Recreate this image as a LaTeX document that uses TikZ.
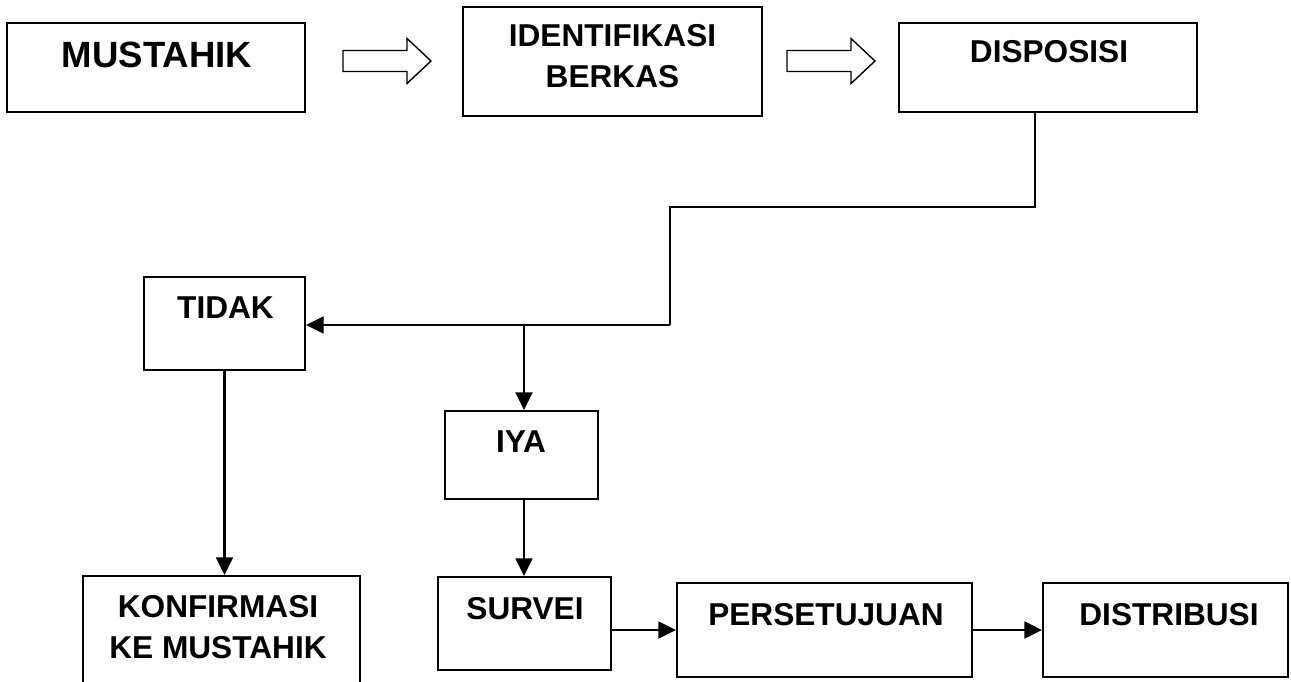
\documentclass[tikz,border=0pt]{standalone}
\usepackage{fontspec}
\setmainfont{Liberation Sans}
\usetikzlibrary{arrows.meta}

\begin{document}
\begin{tikzpicture}[x=0.02cm,y=-0.02cm]

\tikzset{box/.style = {draw, line width=1.1pt, inner sep=0pt}}
\tikzset{size/.style 2 args = {minimum width=#1*0.02cm, minimum height=#2*0.02cm}}
\tikzset{txt/.style = {font=\bfseries\fontsize{18}{23.3}\selectfont, align=center, inner sep=0pt}}
\tikzset{arc/.style = {-{Triangle[length=10pt,width=9.5pt]}, line width=1.5pt}}
\tikzset{link/.style = {line width=1.5pt}}
\tikzset{blockarr/.pic = {\draw[line width=0.8pt] (0,-10.5) -- (64,-10.5) -- (64,-22.5)
  -- (88,0) -- (64,22.5) -- (64,10.5) -- (0,10.5) -- cycle;}}

\useasboundingbox (0,0) rectangle (1291,682);
\clip (0,0) rectangle (1291,682);

% boxes
\node[box, size={298}{89}] (mus) at (156,67.5) {};
\node[box, size={299}{109}] (ident) at (612.5,61.5) {};
\node[box, size={298}{89}] (disp) at (1048,67.5) {};
\node[box, size={161}{93}] (tidak) at (224.5,323.5) {};
\node[box, size={153}{88}] (iya) at (521.5,455) {};
\node[box, size={277}{110}] (konf) at (221.5,631) {};
\node[box, size={173}{93}] (survei) at (524.5,623.5) {};
\node[box, size={295}{94}] (pers) at (824.5,630) {};
\node[box, size={245}{94}] (dist) at (1165.5,630) {};

% texts
\node[txt, font=\bfseries\fontsize{20.8}{25}\selectfont] (mus-t) at (157,55) {MUSTAHIK};
\node[txt] (ident-t) at (612.5,56.5) {IDENTIFIKASI\\BERKAS};
\node[txt] (disp-t) at (1049,52) {DISPOSISI};
\node[txt] (tidak-t) at (225.5,308) {TIDAK};
\node[txt] (iya-t) at (521,442) {IYA};
\node[txt] (konf-t) at (218,627.5) {KONFIRMASI\\KE MUSTAHIK};
\node[txt] (survei-t) at (525,609) {SURVEI};
\node[txt] (pers-t) at (826,615) {PERSETUJUAN};
\node[txt] (dist-t) at (1169,615) {DISTRIBUSI};

% block arrows
\pic at (343,61) {blockarr};
\pic at (787,61) {blockarr};

% connectors
\coordinate (c1) at (1035,207);
\coordinate (c2) at (670,325);
\coordinate (fork) at (524,325);
\draw[link] (disp.south -| c1) -- (c1) -| (c2);
\draw[arc] (c2) -- (c2 -| tidak.east);
\draw[arc] (fork) -- (fork |- iya.north);
\draw[arc] (iya.south -| fork) -- (fork |- survei.north);
\draw[arc] (tidak.south) -- (tidak.south |- konf.north);
\draw[arc] (pers.west -| survei.east) -- (pers.west);
\draw[arc] (pers.east) -- (dist.west);

\end{tikzpicture}
\end{document}
